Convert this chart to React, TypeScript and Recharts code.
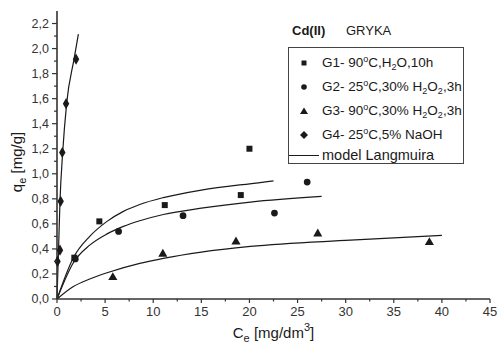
import React from 'react';
import { ComposedChart, XAxis, YAxis, ZAxis, Scatter, Line } from 'recharts';

// measured points
const g1Ce = [1.8, 4.4, 11.2, 19.1, 20.0];
const g1Qe = [0.33, 0.62, 0.75, 0.83, 1.2];
const g2Ce = [1.9, 6.4, 13.1, 22.6, 26.0];
const g2Qe = [0.32, 0.54, 0.665, 0.686, 0.934];
const g3Ce = [5.8, 11.0, 18.6, 27.1, 38.7];
const g3Qe = [0.172, 0.359, 0.457, 0.521, 0.452];
const g4Ce = [0.05, 0.31, 0.38, 0.55, 0.94, 1.98];
const g4Qe = [0.3, 0.39, 0.78, 1.17, 1.56, 1.915];

// Langmuir model curves
const l1Ce = [0, 1.7, 3.4, 5.2, 6.9, 8.6, 11.05, 15, 21.1, 22.5];
const l1Qe = [0, 0.33, 0.5, 0.62, 0.7, 0.755, 0.81, 0.87, 0.93, 0.944];
const l2Ce = [0, 1.7, 3.4, 5.2, 6.9, 8.6, 11.05, 15, 20.1, 27.5];
const l2Qe = [0, 0.29, 0.43, 0.52, 0.58, 0.625, 0.675, 0.725, 0.774, 0.819];
const l3Ce = [0, 1.7, 3.4, 5.2, 8.6, 11.05, 15, 20.1, 30.5, 40];
const l3Qe = [0, 0.1, 0.16, 0.21, 0.285, 0.325, 0.375, 0.42, 0.47, 0.508];
const l4Ce = [0, 0.17, 0.31, 0.59, 1.0, 1.77, 2.22];
const l4Qe = [0, 0.42, 0.78, 1.17, 1.56, 1.915, 2.115];

const xTicks = [0, 2.5, 5, 7.5, 10, 12.5, 15, 17.5, 20, 22.5, 25, 27.5, 30, 32.5, 35, 37.5, 40, 42.5, 45];
const yTicks = [0, 0.1, 0.2, 0.3, 0.4, 0.5, 0.6, 0.7, 0.8, 0.9, 1.0, 1.1, 1.2, 1.3, 1.4, 1.5, 1.6, 1.7, 1.8, 1.9, 2.0, 2.1, 2.2];

const pts = (xs: number[], ys: number[]) => xs.map((x, i) => ({ x, y: ys[i] }));

const FONT = '"Liberation Sans", Arial, sans-serif';
const INK = '#1a1a1a';
const AXIS = '#333';

const XTick = (props: any) => {
  const { x, y, payload } = props;
  const major = Math.round(payload.value * 2) % 10 === 0;
  const axisY = y - 8;
  return (
    <g>
      <line x1={x} x2={x} y1={axisY} y2={axisY + (major ? 4 : 2.5)} stroke={AXIS} strokeWidth={1.2} />
      {major && (
        <text x={x} y={y} dy="0.71em" textAnchor="middle" fontSize={13} fill="#333" fontFamily={FONT}>
          {payload.value}
        </text>
      )}
    </g>
  );
};

const YTick = (props: any) => {
  const { x, y, payload } = props;
  const major = Math.round(payload.value * 10) % 2 === 0;
  const axisX = x + 8;
  return (
    <g>
      <line x1={axisX - (major ? 5 : 3)} x2={axisX} y1={y} y2={y} stroke={AXIS} strokeWidth={1.2} />
      {major && (
        <text x={x} y={y} dy="0.35em" textAnchor="end" fontSize={12.5} fill="#333" fontFamily={FONT}>
          {payload.value.toFixed(1).replace('.', ',')}
        </text>
      )}
    </g>
  );
};

const XTitle = (props: any) => {
  const vb = props.viewBox || {};
  const cx = vb.x + vb.width / 2;
  return (
    <text x={cx} y={338} textAnchor="middle" fontSize={15} fill={INK} fontFamily={FONT}>
      C<tspan fontSize={11} dy={4}>e</tspan>
      <tspan dy={-4}> [mg/dm</tspan>
      <tspan fontSize={11} dy={-7}>3</tspan>
      <tspan dy={7}>]</tspan>
    </text>
  );
};

const YTitle = () => (
  <text x={0} y={0} transform="translate(22,162) rotate(-90)" textAnchor="middle" fontSize={15} fill={INK} fontFamily={FONT}>
    q<tspan fontSize={11} dy={4}>e</tspan>
    <tspan dy={-4}> [mg/g]</tspan>
  </text>
);

const Mark = ({ kind }: { kind: string }) => (
  <svg width={10} height={10} style={{ position: 'absolute', left: 10, top: 3 }}>
    {kind === 'square' && <rect x={2.5} y={2.5} width={5} height={5} fill={INK} />}
    {kind === 'circle' && <circle cx={5} cy={5} r={2.8} fill={INK} />}
    {kind === 'triangle' && <polygon points="5,1.5 9,8 1,8" fill={INK} />}
    {kind === 'diamond' && <polygon points="5,1 9,5 5,9 1,5" fill={INK} />}
  </svg>
);

const sup = { fontSize: '9px', verticalAlign: '5px', lineHeight: 0 } as React.CSSProperties;
const sub = { fontSize: '9px', verticalAlign: '-3px', lineHeight: 0 } as React.CSSProperties;

const legendRows: { kind: string; top: number; label: React.ReactNode }[] = [
  { kind: 'square', top: 6.5, label: <>G1- 90<span style={sup}>o</span>C,H<span style={sub}>2</span>O,10h</> },
  { kind: 'circle', top: 30.5, label: <>G2- 25<span style={sup}>o</span>C,30% H<span style={sub}>2</span>O<span style={sub}>2</span>,3h</> },
  { kind: 'triangle', top: 54.5, label: <>G3- 90<span style={sup}>o</span>C,30% H<span style={sub}>2</span>O<span style={sub}>2</span>,3h</> },
  { kind: 'diamond', top: 78.5, label: <>G4- 25<span style={sup}>o</span>C,5% NaOH</> },
];

export default function App() {
  return (
    <div style={{ position: 'absolute', left: 0, top: 0, width: 499, height: 343, background: '#fff', fontFamily: FONT }}>
      <ComposedChart width={499} height={343} margin={{ top: 11, right: 9, bottom: 0, left: 0 }}>
        <XAxis
          type="number"
          dataKey="x"
          domain={[0, 45]}
          ticks={xTicks}
          interval={0}
          tick={<XTick />}
          tickLine={false}
          tickSize={4}
          tickMargin={4}
          height={44}
          axisLine={{ stroke: AXIS, strokeWidth: 1.6 }}
          label={<XTitle />}
        />
        <YAxis
          type="number"
          dataKey="y"
          domain={[0, 2.3]}
          ticks={yTicks}
          interval={0}
          tick={<YTick />}
          tickLine={false}
          tickSize={5}
          tickMargin={3}
          width={57}
          axisLine={{ stroke: AXIS, strokeWidth: 1.6 }}
          label={<YTitle />}
        />
        <ZAxis range={[36, 36]} />
        <Line data={pts(l1Ce, l1Qe)} dataKey="y" type="monotone" dot={false} stroke={INK} strokeWidth={1.2} isAnimationActive={false} />
        <Line data={pts(l2Ce, l2Qe)} dataKey="y" type="monotone" dot={false} stroke={INK} strokeWidth={1.2} isAnimationActive={false} />
        <Line data={pts(l3Ce, l3Qe)} dataKey="y" type="monotone" dot={false} stroke={INK} strokeWidth={1.2} isAnimationActive={false} />
        <Line data={pts(l4Ce, l4Qe)} dataKey="y" type="monotone" dot={false} stroke={INK} strokeWidth={1.2} isAnimationActive={false} />
        <Scatter data={pts(g1Ce, g1Qe)} shape="square" fill={INK} isAnimationActive={false} />
        <Scatter data={pts(g2Ce, g2Qe)} shape="circle" fill={INK} isAnimationActive={false} />
        <Scatter data={pts(g3Ce, g3Qe)} shape="triangle" fill={INK} isAnimationActive={false} />
        <Scatter data={pts(g4Ce, g4Qe)} shape="diamond" fill={INK} isAnimationActive={false} />
      </ComposedChart>

      <div style={{ position: 'absolute', left: 292, top: 23, fontSize: 13, fontWeight: 'bold', color: INK, lineHeight: '16px' }}>Cd(II)</div>
      <div style={{ position: 'absolute', left: 346, top: 23, fontSize: 13, color: INK, lineHeight: '16px' }}>GRYKA</div>

      <div style={{ position: 'absolute', left: 288, top: 47, width: 174, height: 115, border: '1px solid #444', fontSize: 13.5, color: INK }}>
        {legendRows.map((r) => (
          <div key={r.kind} style={{ position: 'absolute', left: 0, top: r.top, height: 16, lineHeight: '16px', whiteSpace: 'nowrap' }}>
            <Mark kind={r.kind} />
            <span style={{ position: 'absolute', left: 33, top: 0 }}>{r.label}</span>
          </div>
        ))}
        <div style={{ position: 'absolute', left: 0, top: 99, height: 16, lineHeight: '16px', whiteSpace: 'nowrap' }}>
          <div style={{ position: 'absolute', left: 0, top: 8, width: 30, borderTop: `1px solid ${INK}` }} />
          <span style={{ position: 'absolute', left: 33, top: 0, fontSize: 14.5 }}>model Langmuira</span>
        </div>
      </div>
    </div>
  );
}
